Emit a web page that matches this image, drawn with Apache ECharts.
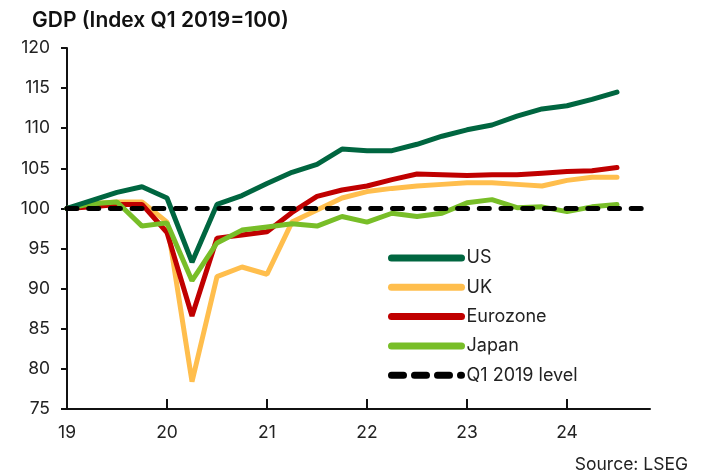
<!DOCTYPE html>
<html>
<head>
<meta charset="utf-8">
<script src="https://cdn.jsdelivr.net/npm/echarts@6/dist/echarts.min.js"></script>
<style>
  html, body { margin: 0; padding: 0; background: #fff; }
  #chart { width: 713px; height: 475px; }
</style>
</head>
<body>
<div id="chart"></div>
<script>
// quarters Q1 2019 .. Q3 2024, as year fractions
var quarters = [19, 19.25, 19.5, 19.75, 20, 20.25, 20.5, 20.75, 21, 21.25, 21.5, 21.75,
                22, 22.25, 22.5, 22.75, 23, 23.25, 23.5, 23.75, 24, 24.25, 24.5];
var us = [100, 101.0, 102.0, 102.7, 101.3, 93.3, 100.5, 101.6, 103.1, 104.5, 105.5, 107.4,
          107.2, 107.2, 108.0, 109.0, 109.8, 110.4, 111.5, 112.4, 112.8, 113.6, 114.5];
var uk = [100, 100.6, 100.8, 100.8, 98.3, 78.4, 91.5, 92.7, 91.8, 98.3, 99.8, 101.3,
          102.1, 102.5, 102.8, 103.0, 103.2, 103.2, 103.0, 102.8, 103.5, 103.9, 103.9];
var eurozone = [100, 100.2, 100.5, 100.5, 97.0, 86.6, 96.3, 96.7, 97.1, 99.5, 101.5, 102.3,
                102.8, 103.6, 104.3, 104.2, 104.1, 104.2, 104.2, 104.4, 104.6, 104.7, 105.1];
var japan = [100, 100.6, 100.8, 97.8, 98.2, 91.0, 95.7, 97.3, 97.7, 98.1, 97.8, 99.0,
             98.3, 99.4, 99.0, 99.4, 100.7, 101.1, 100.1, 100.2, 99.6, 100.2, 100.5];
var baseLine = [[19, 100], [24.75, 100]];
var yearTicks = [19, 20, 21, 22, 23, 24];

function pairs(vals) {
    return vals.map(function (v, i) { return [quarters[i], v]; });
}

var font = 'Inter, "Noto Sans", sans-serif';
var chart = echarts.init(document.getElementById('chart'));

function line(name, color, vals) {
    return {
        name: name,
        type: 'line',
        data: pairs(vals),
        showSymbol: false,
        symbol: 'none',
        lineStyle: { color: color, width: 5, cap: 'round' },
        itemStyle: { color: color }
    };
}

var option = {
    animation: false,
    textStyle: { fontFamily: font },
    title: [
        {
            text: 'GDP (Index Q1 2019=100)',
            left: 27,
            top: 5,
            textStyle: { fontSize: 21, fontWeight: 600, color: '#111', fontFamily: font }
        },
        {
            text: 'Source: LSEG',
            right: 20,
            top: 451,
            textStyle: { fontSize: 17.5, fontWeight: 'normal', color: '#222', fontFamily: font }
        }
    ],
    grid: { left: 67, right: 63, top: 48, bottom: 66 },
    legend: {
        orient: 'vertical',
        left: 383,
        top: 244,
        itemWidth: 70,
        itemHeight: 14,
        itemGap: 11.3,
        itemStyle: { opacity: 0 },
        lineStyle: { width: 7, cap: 'round' },
        textStyle: { fontSize: 18, color: '#222' },
        data: ['US', 'UK', 'Eurozone', 'Japan',
            { name: 'Q1 2019 level', lineStyle: { width: 7, type: [12, 11], cap: 'round' } }]
    },
    xAxis: {
        type: 'value',
        min: 19,
        max: 24.83,
        splitLine: { show: false },
        axisLine: { lineStyle: { color: '#111', width: 2 } },
        axisTick: { inside: true, length: 10, customValues: yearTicks, lineStyle: { color: '#111', width: 2 } },
        axisLabel: { customValues: yearTicks, margin: 15, fontSize: 17.5, color: '#222' }
    },
    yAxis: {
        type: 'value',
        min: 75,
        max: 120,
        interval: 5,
        splitLine: { show: false },
        axisLine: { show: true, lineStyle: { color: '#111', width: 2 } },
        axisTick: { show: true, length: 6, lineStyle: { color: '#111', width: 2 } },
        axisLabel: { margin: 17, fontSize: 17.5, color: '#222' }
    },
    series: [
        line('UK', '#FFBE4D', uk),
        line('Eurozone', '#C00000', eurozone),
        line('Japan', '#78BE28', japan),
        line('US', '#006640', us),
        {
            name: 'Q1 2019 level',
            type: 'line',
            data: baseLine,
            showSymbol: false,
            symbol: 'none',
            lineStyle: { color: '#000', width: 5, type: [10, 11.7], cap: 'round' },
            itemStyle: { color: '#000' }
        }
    ]
};
chart.setOption(option);
</script>
</body>
</html>
